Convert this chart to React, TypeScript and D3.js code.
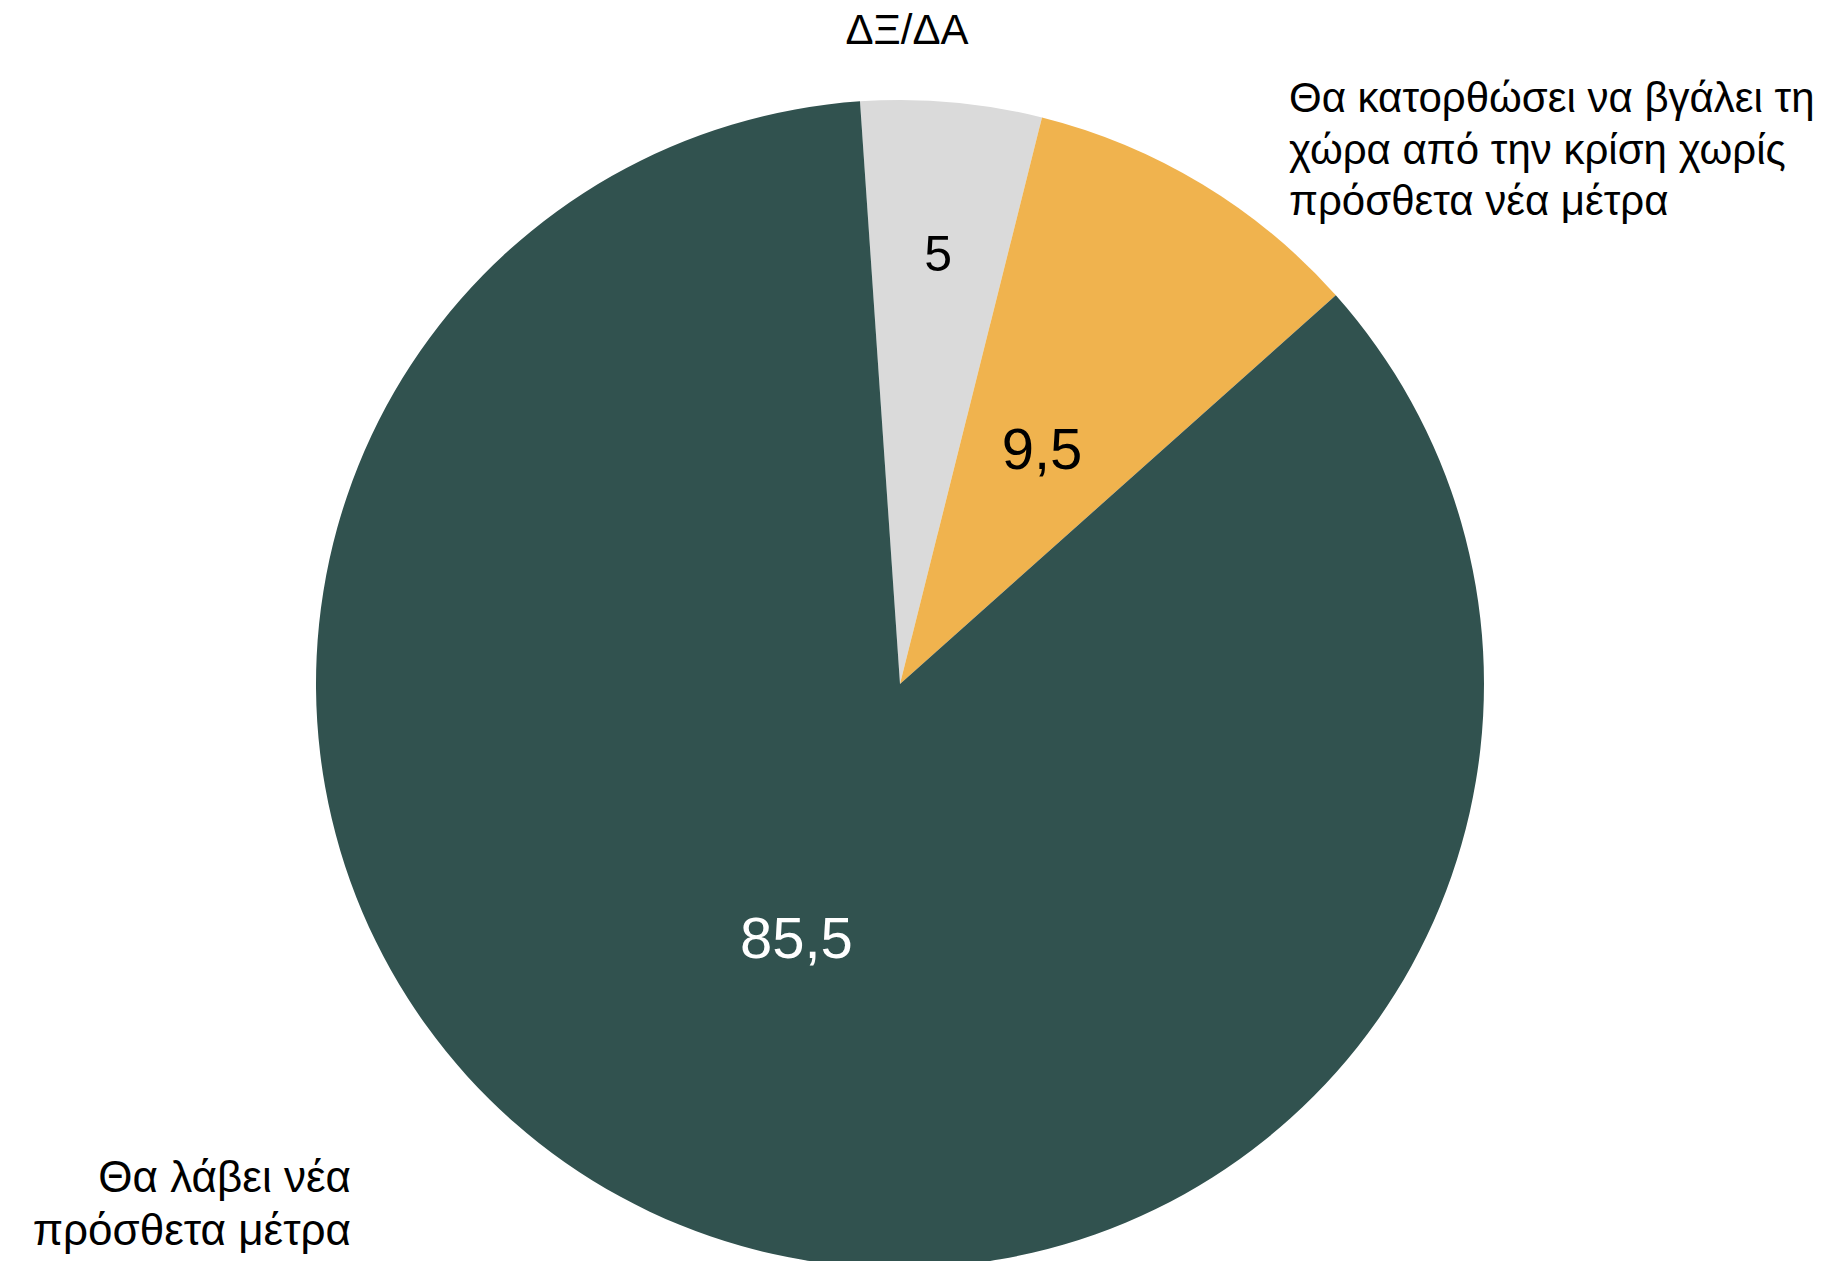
import React from "react";
import * as d3 from "d3";

const categories = ["ΔΞ/ΔΑ", "Θα κατορθώσει να βγάλει τη χώρα από την κρίση χωρίς πρόσθετα νέα μέτρα", "Θα λάβει νέα πρόσθετα μέτρα"];
const values = [5, 9.5, 85.5];
const valueLabels = ["5", "9,5", "85,5"];
const colors = ["#DADADA", "#F0B34E", "#31524F"];
const labelColors = ["#000000", "#000000", "#FFFFFF"];
const rightLabelLines = ["Θα κατορθώσει να βγάλει τη", "χώρα από την κρίση χωρίς", "πρόσθετα νέα μέτρα"];
const bottomLabelLines = ["Θα λάβει νέα", "πρόσθετα μέτρα"];

const W = 1835;
const H = 1261;
const cx = 900;
const cy = 684;
const R = 584;
const FONT = "'Liberation Sans', Arial, sans-serif";

export default function App() {
  const start = -3.93 * Math.PI / 180;
  const pie = d3.pie<number>().sort(null).value((d) => d).startAngle(start).endAngle(start + 2 * Math.PI);
  const arcs = pie(values);
  const arc = d3.arc<d3.PieArcDatum<number>>().innerRadius(0).outerRadius(R);
  const labelRadius = (i: number) => (values[i] < 7 ? R * 0.74 : R * 0.47);
  const labelSize = (i: number) => (values[i] < 7 ? 50 : 58);

  return (
    <svg width={W} height={H} style={{ position: "absolute", left: 0, top: 0, background: "#fff" }} fontFamily={FONT}>
      <title>{categories.join(" / ")}</title>
      <g transform={`translate(${cx},${cy})`}>
        {arcs.map((a, i) => (
          <path key={i} d={arc(a) || ""} fill={colors[i]} />
        ))}
        {arcs.map((a, i) => {
          const lr = labelRadius(i);
          const la = d3.arc<d3.PieArcDatum<number>>().innerRadius(lr).outerRadius(lr);
          const [x, y] = la.centroid(a);
          return (
            <text key={i} x={x} y={y} dy="0.35em" textAnchor="middle" fontSize={labelSize(i)} fill={labelColors[i]}>
              {valueLabels[i]}
            </text>
          );
        })}
      </g>
      <text x={907} y={44} textAnchor="middle" fontSize={42} fill="#000">{categories[0]}</text>
      <text fontSize={42} fill="#000">
        {rightLabelLines.map((l, i) => (
          <tspan key={i} x={1289} y={112 + i * 51.5}>{l}</tspan>
        ))}
      </text>
      <text textAnchor="end" fontSize={44} fill="#000">
        {bottomLabelLines.map((l, i) => (
          <tspan key={i} x={351} y={1192 + i * 53}>{l}</tspan>
        ))}
      </text>
    </svg>
  );
}
